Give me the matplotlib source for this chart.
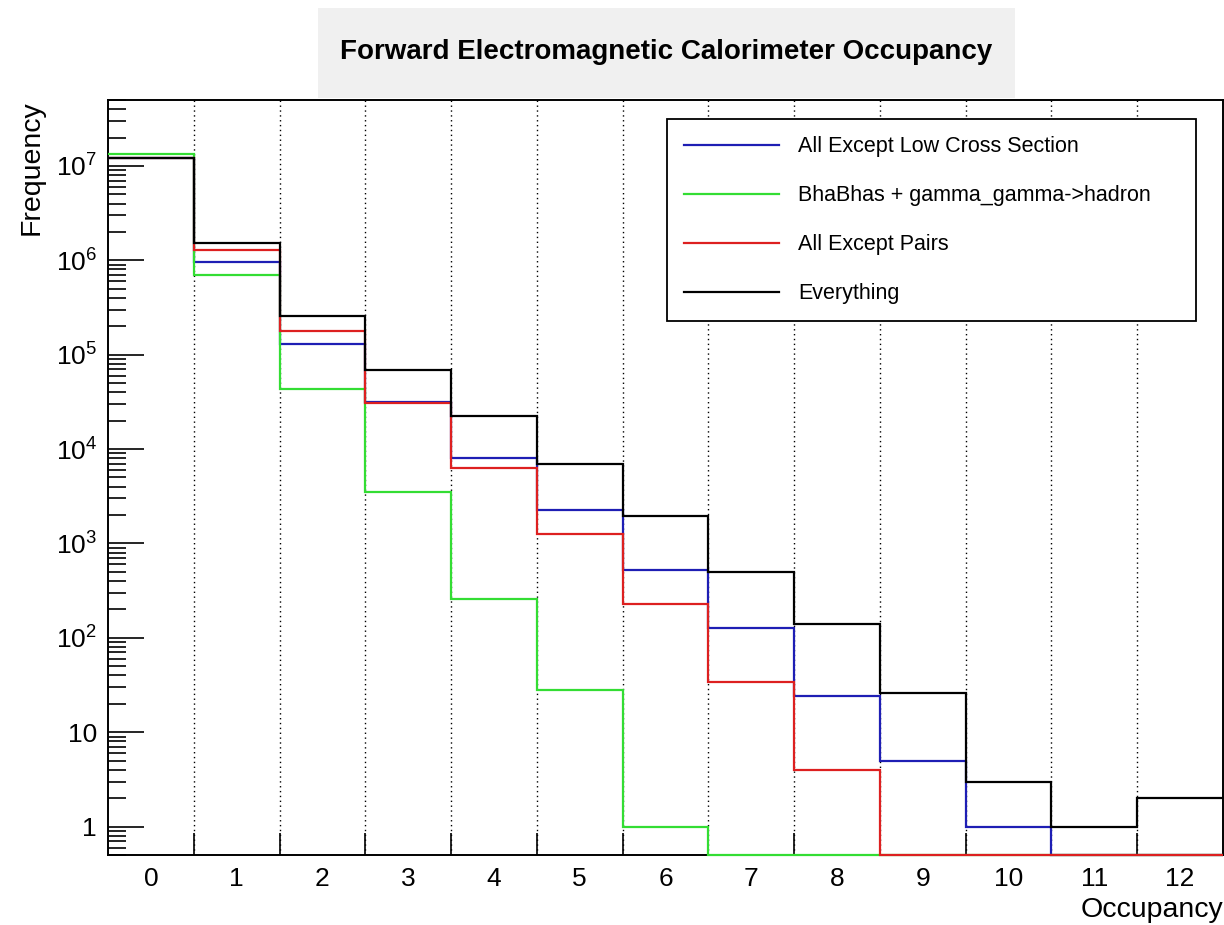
import numpy as np
import matplotlib
matplotlib.use("Agg")
import matplotlib.pyplot as plt
from matplotlib.patches import Rectangle
from matplotlib.ticker import FixedLocator, LogLocator, NullFormatter

plt.rcParams['font.family'] = ['Liberation Sans', 'DejaVu Sans']
plt.rcParams['mathtext.fontset'] = 'custom'
plt.rcParams['mathtext.rm'] = 'Liberation Sans'
plt.rcParams['mathtext.it'] = 'Liberation Sans:italic'

# occupancy bins and counts
occupancy = np.arange(13)
all_except_low = [1.2e7, 9.7e5, 1.31e5, 3.15e4, 8.1e3, 2.27e3, 520, 127, 24, 5, 1, 0, 0]
bhabhas = [1.33e7, 6.97e5, 4.28e4, 3.54e3, 260, 28, 1, 0, 0, 0, 0, 0, 0]
all_except_pairs = [1.22e7, 1.28e6, 1.77e5, 3.05e4, 6.37e3, 1.26e3, 228, 34, 4, 0, 0, 0, 0]
everything = [1.22e7, 1.51e6, 2.58e5, 6.85e4, 2.25e4, 6.9e3, 1.96e3, 499, 139, 26, 3, 1, 2]

labels = ["All Except Low Cross Section", "BhaBhas + gamma_gamma->hadron",
          "All Except Pairs", "Everything"]
colors = ["#1e1eb4", "#33dd33", "#dd2020", "black"]

ymin, ymax = 0.5, 5e7
edges = np.append(occupancy - 0.5, occupancy[-1] + 0.5)

fig = plt.figure(figsize=(12.24, 9.25), dpi=100)
ax = fig.add_axes([0.0882, 0.0757, 0.911, 0.8162])

# title box
fig.patches.append(Rectangle((0.2598, 0.894), 0.5694, 0.0973, transform=fig.transFigure,
                             facecolor="#f0f0f0", edgecolor="none", zorder=0))
fig.text(0.544, 0.9438, "Forward Electromagnetic Calorimeter Occupancy",
         ha="center", va="center", fontsize=20, fontweight="bold")

for vals, lab, col in zip([all_except_low, bhabhas, all_except_pairs, everything], labels, colors):
    v = np.asarray(vals, dtype=float)
    v = np.where(v > 0, v, ymin)  # empty bins sit on the frame bottom, like ROOT
    ax.stairs(v, edges, baseline=None, color=col, lw=1.6, label=lab, zorder=3, clip_on=False)

ax.set_yscale("log")
ax.set_ylim(ymin, ymax)
ax.set_xlim(edges[0], edges[-1])

# y ticks
ax.yaxis.set_major_locator(FixedLocator([10.0 ** k for k in range(8)]))
ax.set_yticklabels(["1", "10"] + [r"$\mathregular{10^{%d}}$" % k for k in range(2, 8)])
ax.yaxis.set_minor_locator(LogLocator(base=10, subs=np.arange(2, 10), numticks=20))
ax.yaxis.set_minor_formatter(NullFormatter())
ax.tick_params(axis="y", which="major", direction="in", length=26, width=1.2,
               labelsize=19, pad=8, right=False)
ax.tick_params(axis="y", which="minor", direction="in", length=13, width=1.2, right=False)

# x ticks: labels at bin centres, tick marks on bin edges
ax.set_xticks(occupancy)
ax.set_xticklabels([str(i) for i in occupancy])
ax.set_xticks(edges[1:-1], minor=True)
ax.tick_params(axis="x", which="major", length=0, labelsize=19, pad=9, top=False)
ax.tick_params(axis="x", which="minor", direction="in", length=16, width=1.2, top=False)
ax.grid(which="minor", axis="x", color="black", linestyle=(0, (1, 2.5)), lw=1.0)

for s in ax.spines.values():
    s.set_linewidth(1.4)

ax.set_xlabel("Occupancy", fontsize=20.5, ha="right")
ax.xaxis.set_label_coords(1.0, -0.056)
ax.set_ylabel("Frequency", fontsize=20.5, ha="right")
ax.yaxis.set_label_coords(-0.057, 1.0)

leg = ax.legend(loc="upper left", bbox_to_anchor=(0.5013, 0.7126, 0.4745, 0.2622),
                mode="expand", fontsize=15.5,
                frameon=True, fancybox=False, edgecolor="black", framealpha=1,
                handlelength=4.4, handletextpad=0.9, labelspacing=1.3,
                borderpad=0.8, borderaxespad=0)
leg.get_frame().set_linewidth(1.3)
leg.set_zorder(5)

fig.savefig("out.png", dpi=100)
